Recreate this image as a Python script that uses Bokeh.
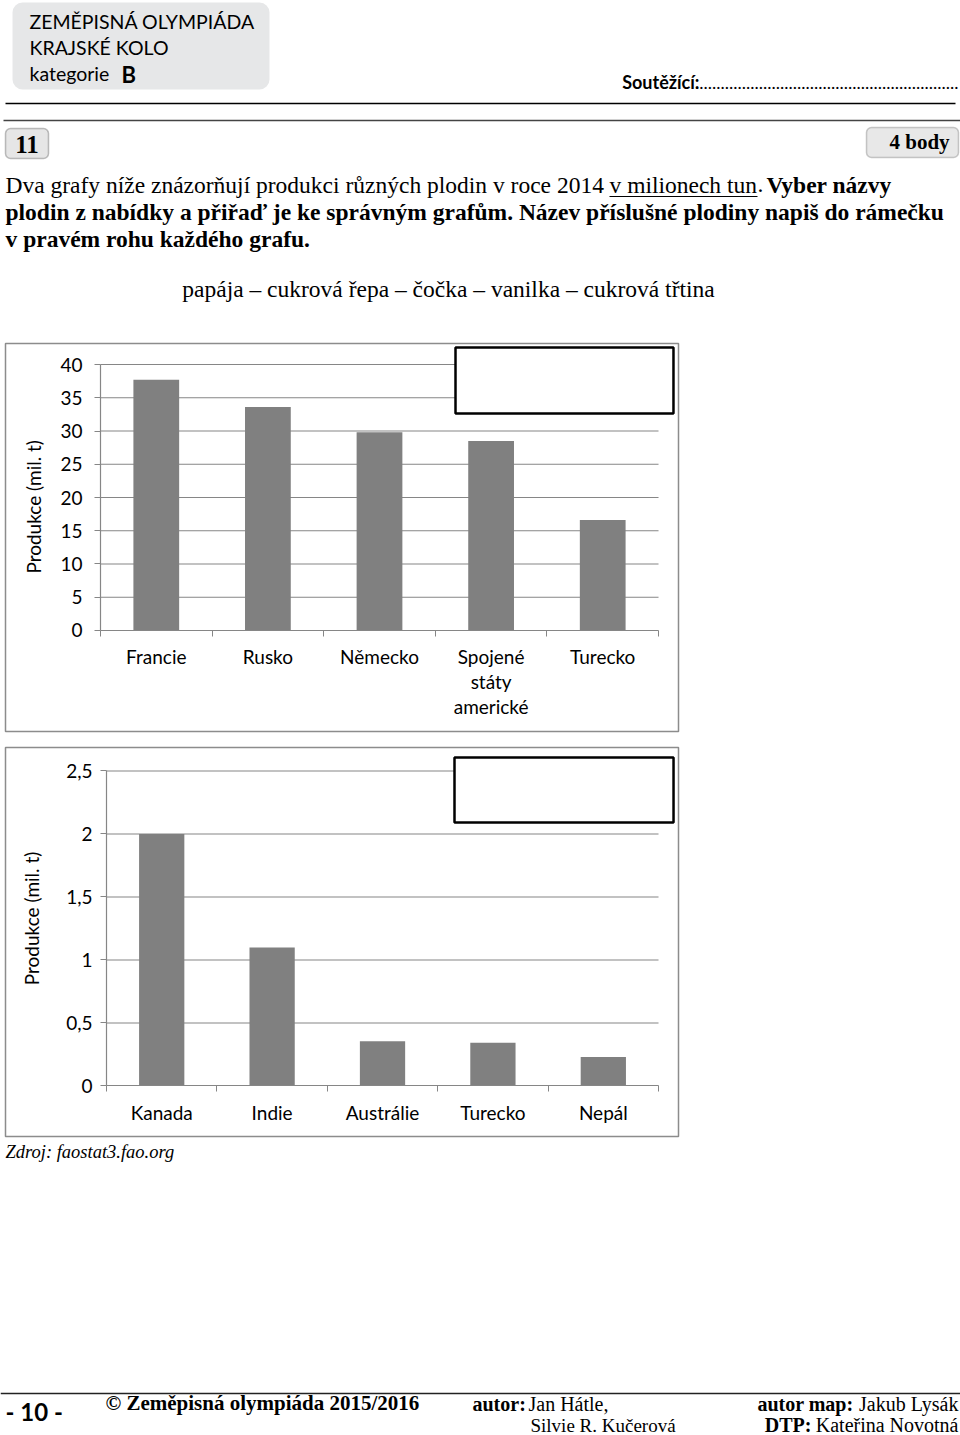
import numpy as np
from bokeh.plotting import figure
from bokeh.models import Range1d, FixedTicker, BoxAnnotation
from bokeh.layouts import column
from bokeh.core.properties import value
from bokeh.embed import file_html
from bokeh.resources import INLINE

# ---------------- data ----------------
countries_1 = ["Francie", "Rusko", "Německo", "Spojené\nstáty\namerické", "Turecko"]
production_1 = [37.7, 33.6, 29.8, 28.5, 16.6]
y_ticks_1 = [0, 5, 10, 15, 20, 25, 30, 35, 40]
y_tick_labels_1 = ["0", "5", "10", "15", "20", "25", "30", "35", "40"]

countries_2 = ["Kanada", "Indie", "Austrálie", "Turecko", "Nepál"]
production_2 = [2.0, 1.1, 0.355, 0.344, 0.23]
y_ticks_2 = [0, 0.5, 1, 1.5, 2, 2.5]
y_tick_labels_2 = ["0", "0,5", "1", "1,5", "2", "2,5"]

crops = ["papája", "cukrová řepa", "čočka", "vanilka", "cukrová třtina"]
y_axis_title = "Produkce (mil. t)"

SANS = "Lato"
SERIF = "Liberation Serif"
GRID = "#868686"
BAR = "#808080"


def txt(p, x, y, s, size, font=SERIF, style="normal", align="left",
        baseline="alphabetic", color="black", angle=0.0, x_offset=0):
    # y is the text baseline; place by the middle of the font box
    if baseline == "alphabetic":
        y = y - 0.34 * size
        baseline = "middle"
    p.text(x=[x], y=[y], text=[s], text_font=value(font), text_font_size=f"{size}px",
           text_font_style=style, text_align=align, text_baseline=baseline,
           text_color=color, angle=angle, x_offset=x_offset)


def page_fig(height, y_top, y_bottom):
    p = figure(width=960, height=height, x_range=Range1d(0, 960),
               y_range=Range1d(y_bottom, y_top), x_axis_type=None, y_axis_type=None,
               toolbar_location=None, output_backend="svg", min_border=0,
               outline_line_color=None, frame_align=False)
    p.grid.visible = False
    return p


def rbox(p, l, r, t, b, fill, line, lw, rad):
    p.add_layout(BoxAnnotation(left=l, right=r, top=t, bottom=b, fill_color=fill,
                               fill_alpha=1, line_color=line, line_width=lw,
                               border_radius=rad, level="underlay"))


# ---------------- header ----------------
head = page_fig(338, 0, 338)
rbox(head, 12, 269, 2, 89, "#e6e7e8", None, 0, 10)
txt(head, 29, 28, "ZEMĚPISNÁ OLYMPIÁDA", 19.5, font=SANS)
txt(head, 29, 54, "KRAJSKÉ KOLO", 19.5, font=SANS)
txt(head, 29, 80, "kategorie", 19.5, font=SANS)
txt(head, 121, 81, "B", 22, font=SANS, style="bold")
txt(head, 699, 88, "Soutěžící:", 18, font=SANS, style="bold", align="right")
txt(head, 958, 88, "." * 62, 18, font=SANS, align="right")
head.segment(x0=[5], y0=[103], x1=[955], y1=[103], line_color="black", line_width=1.5)
head.segment(x0=[3], y0=[120], x1=[960], y1=[120], line_color="#444444", line_width=1.5)

rbox(head, 5, 48, 128, 158, "#e6e6e6", "#333333", 1.5, 5)
txt(head, 26.5, 152, "11", 25, style="bold", align="center")
rbox(head, 866, 958, 127, 157, "#e8e8e8", "#555555", 1.5, 5)
txt(head, 919, 149, "4 body", 21, style="bold", align="center")

FS = 23.5
txt(head, 5, 192, "Dva grafy níže znázorňují produkci různých plodin v roce 2014", FS)
txt(head, 609, 192, "v milionech tun", FS)
head.segment(x0=[609], y0=[196], x1=[757], y1=[196], line_color="black", line_width=1)
txt(head, 757, 192, ".", FS)
txt(head, 766, 192, "Vyber názvy", FS, style="bold")
txt(head, 5, 219, "plodin z nabídky a přiřaď je ke správným grafům. Název příslušné plodiny "
                  "napiš do rámečku", FS, style="bold")
txt(head, 5, 246, "v pravém rohu každého grafu.", FS, style="bold")
txt(head, 448, 296, " – ".join(crops), FS, align="center")


# ---------------- charts ----------------
def chart(height, b_top, b_bottom, xr, yr, cats, vals, yticks, ylabels, box,
          ylab_y, ylab_off, ystand, xstand):
    p = figure(width=960, height=height, x_range=Range1d(*xr), y_range=Range1d(*yr),
               toolbar_location=None, output_backend="svg",
               min_border_left=5, min_border_right=282, min_border_top=b_top,
               min_border_bottom=b_bottom, outline_line_color="#8c8c8c",
               outline_line_width=1.5, frame_align=False)
    p.grid.visible = False
    n = len(cats)
    xs = np.arange(n) + 0.5
    gl = yticks[1:]
    p.segment(x0=[0] * len(gl), x1=[n] * len(gl), y0=gl, y1=gl,
              line_color=GRID, line_width=1.2)
    p.vbar(x=xs, top=vals, width=0.41, fill_color=BAR, line_color=None)
    p.quad(left=[box[0]], right=[box[1]], top=[box[2]], bottom=[box[3]],
           fill_color="white", line_color="black", line_width=2.5)

    xa = p.xaxis[0]
    xa.fixed_location = 0
    xa.bounds = (0, n)
    xa.ticker = FixedTicker(ticks=list(xs), minor_ticks=list(range(n + 1)))
    xa.major_label_overrides = {float(x): c for x, c in zip(xs, cats)}
    xa.major_tick_in = 0
    xa.major_tick_out = 0
    xa.major_tick_line_color = None
    xa.minor_tick_in = 0
    xa.minor_tick_out = 6
    xa.minor_tick_line_color = GRID
    xa.axis_line_color = GRID
    xa.axis_line_width = 1.2
    xa.major_label_text_font = SANS
    xa.major_label_text_font_size = "19px"
    xa.major_label_text_color = "black"
    xa.major_label_text_line_height = 1.08
    xa.major_label_standoff = xstand

    ya = p.yaxis[0]
    ya.fixed_location = 0
    ya.bounds = (yticks[0], yticks[-1])
    ya.ticker = FixedTicker(ticks=yticks, minor_ticks=[])
    ya.major_label_overrides = {t: l for t, l in zip(yticks, ylabels)}
    ya.major_tick_in = 0
    ya.major_tick_out = 6
    ya.major_tick_line_color = GRID
    ya.minor_tick_line_color = None
    ya.axis_line_color = GRID
    ya.axis_line_width = 1.2
    ya.major_label_text_font = SANS
    ya.major_label_text_font_size = "19px"
    ya.major_label_text_color = "black"
    ya.major_label_standoff = ystand

    txt(p, 0, ylab_y, y_axis_title, 19, font=SANS, align="center",
        baseline="middle", angle=np.pi / 2, x_offset=ylab_off)
    return p


c1 = chart(401, 5, 8, (-0.851, 5.179), (-15.19, 43.16), countries_1, production_1,
           y_ticks_1, y_tick_labels_1, (3.181, 5.134, 42.56, 32.63), 18.6, -67, 12, 9)
c2 = chart(401, 8, 4, (-0.915, 5.181), (-0.401, 2.6865), countries_2, production_2,
           y_ticks_2, y_tick_labels_2, (3.152, 5.136, 2.607, 2.091), 1.33, -75, 8, 9)

# ---------------- footer ----------------
foot = page_fig(295, 1140, 1435)
txt(foot, 5, 1158, "Zdroj: faostat3.fao.org", 18.5, style="italic")
foot.segment(x0=[0], y0=[1393], x1=[960], y1=[1393], line_color="#222222", line_width=1.5)
txt(foot, 5, 1411, "- 10 -", 24, font=SANS, style="bold", baseline="middle")
txt(foot, 105, 1410, "© Zeměpisná olympiáda 2015/2016", 21, style="bold")
txt(foot, 472, 1410, "autor:", 20, style="bold")
txt(foot, 528, 1410, "Jan Hátle,", 20)
txt(foot, 530, 1431, "Silvie R. Kučerová", 19)
txt(foot, 853, 1410, "autor map:", 20, style="bold", align="right")
txt(foot, 958, 1410, "Jakub Lysák", 20, align="right")
txt(foot, 811, 1431, "DTP:", 20, style="bold", align="right")
txt(foot, 958, 1431, "Kateřina Novotná", 20, align="right")

page = column(head, c1, c2, foot, spacing=0)
open("out.html", "w").write(file_html(page, INLINE))
